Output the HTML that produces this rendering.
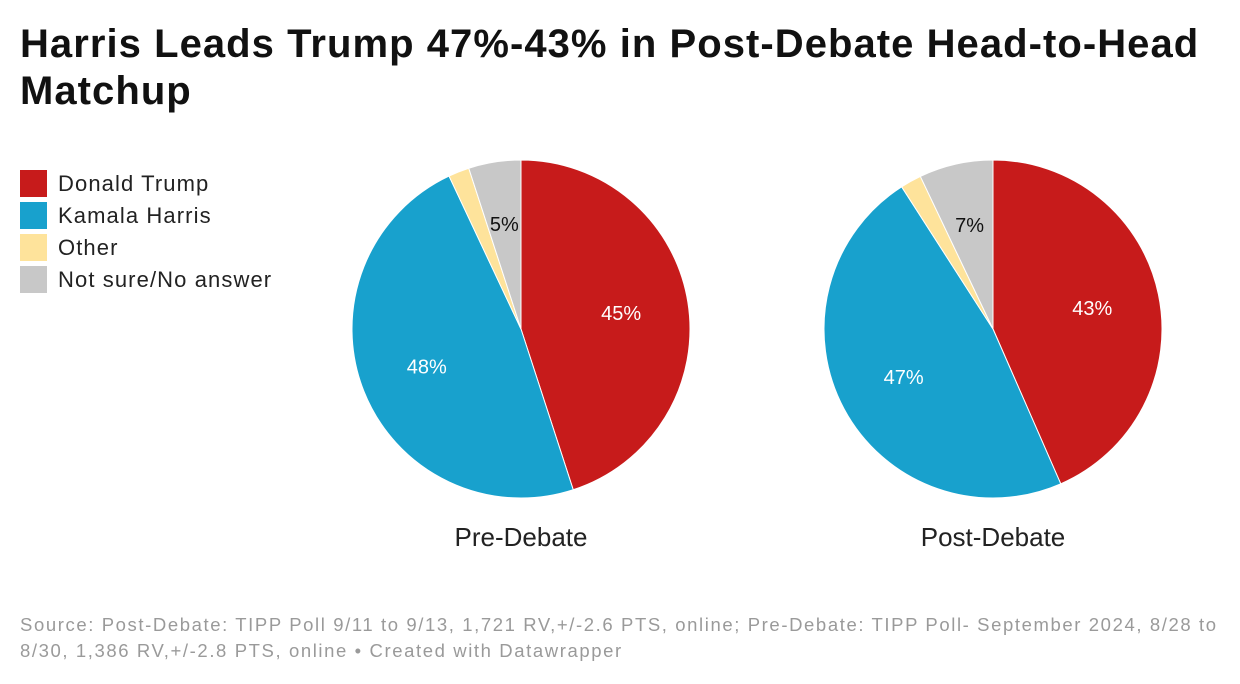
<!DOCTYPE html>
<html><head><meta charset="utf-8"><style>
body{margin:0;width:1240px;height:684px;background:#fff;font-family:"Liberation Sans",sans-serif;overflow:hidden;position:relative}
#title{position:absolute;left:20px;top:21px;font-size:40px;font-weight:bold;line-height:47px;color:#111;letter-spacing:1.05px;white-space:nowrap}
.leg{position:absolute;left:20px;font-size:22px;color:#222;display:flex;align-items:center;letter-spacing:1.1px}
.sw{width:27px;height:27px;margin-right:11px}
#src{position:absolute;left:20px;top:612px;font-size:18.5px;color:#9a9a9a;line-height:26px;letter-spacing:1.6px;white-space:nowrap}
svg{position:absolute;left:0;top:0}
</style></head><body>
<div id="title">Harris Leads Trump 47%-43% in Post-Debate Head-to-Head<br>Matchup</div>
<div class="leg" style="top:170px"><div class="sw" style="background:#c71b1b"></div>Donald Trump</div>
<div class="leg" style="top:202px"><div class="sw" style="background:#18a1cd"></div>Kamala Harris</div>
<div class="leg" style="top:234px"><div class="sw" style="background:#fee39b"></div>Other</div>
<div class="leg" style="top:266px"><div class="sw" style="background:#c8c8c8"></div>Not sure/No answer</div>
<svg id="chart" width="1240" height="684"></svg>
<div id="src">Source: Post-Debate: TIPP Poll 9/11 to 9/13, 1,721 RV,+/-2.6 PTS, online; Pre-Debate: TIPP Poll- September 2024, 8/28 to<br>8/30, 1,386 RV,+/-2.8 PTS, online • Created with Datawrapper</div>
<script>
const categories=["Donald Trump","Kamala Harris","Other","Not sure/No answer"];
const preValues=[45,48,2,5];
const postValues=[43,47,2,7];
const pieTitles=["Pre-Debate","Post-Debate"];
const colors=["#c71b1b","#18a1cd","#fee39b","#c8c8c8"];
const labelColors=["#fff","#fff",null,"#111"];
const svg=document.getElementById('chart');
const NS="http://www.w3.org/2000/svg";
function pie(vals,cx,cy,r,title,key){
  const sum=vals.reduce((a,b)=>a+b,0);
  let a0=0;
  vals.forEach((v,i)=>{
    const a1=a0+v/sum*2*Math.PI;
    const x0=cx+r*Math.sin(a0),y0=cy-r*Math.cos(a0),x1=cx+r*Math.sin(a1),y1=cy-r*Math.cos(a1);
    const p=document.createElementNS(NS,'path');
    p.setAttribute('d',`M${cx},${cy}L${x0},${y0}A${r},${r} 0 ${a1-a0>Math.PI?1:0} 1 ${x1},${y1}Z`);
    p.setAttribute('fill',colors[i]);p.setAttribute('stroke','#fff');p.setAttribute('stroke-width','1');
    
    
    svg.appendChild(p);
    if(labelColors[i]){
      const m=(a0+a1)/2, lr=i==3?0.63:0.6;
      const t=document.createElementNS(NS,'text');
      t.setAttribute('x',cx+r*lr*Math.sin(m));t.setAttribute('y',cy-r*lr*Math.cos(m)+7);
      t.setAttribute('text-anchor','middle');t.setAttribute('font-size','20');t.setAttribute('fill',labelColors[i]);
      t.setAttribute('font-family','Liberation Sans, sans-serif');
      t.textContent=v+'%';
      
      
      svg.appendChild(t);
    }
    a0=a1;
  });
  const tt=document.createElementNS(NS,'text');
  tt.setAttribute('x',cx);tt.setAttribute('y',cy+217);tt.setAttribute('text-anchor','middle');
  tt.setAttribute('font-size','26');tt.setAttribute('fill','#222');tt.setAttribute('font-family','Liberation Sans, sans-serif');
  tt.textContent=title;
  
  
  svg.appendChild(tt);
}
pie(preValues,521,329,169,pieTitles[0],'pre');
pie(postValues,993,329,169,pieTitles[1],'post');
</script>
</body></html>
